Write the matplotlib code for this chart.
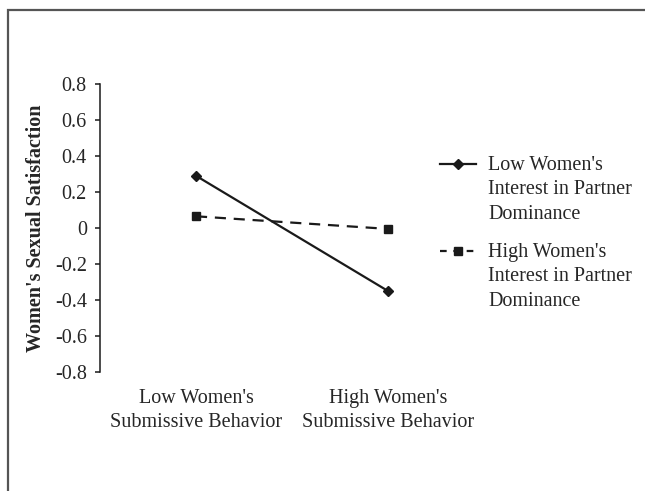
import matplotlib
matplotlib.use("Agg")
import matplotlib.pyplot as plt
from matplotlib.lines import Line2D
from matplotlib.patches import Rectangle

# data
categories = ["Low Women's\nSubmissive Behavior", "High Women's\nSubmissive Behavior"]
low_interest = [0.29, -0.35]
high_interest = [0.065, -0.005]
series_labels = ["Low Women's\nInterest in Partner\nDominance",
                 "High Women's\nInterest in Partner\nDominance"]
yticks = [-0.8, -0.6, -0.4, -0.2, 0, 0.2, 0.4, 0.6, 0.8]
ytick_labels = ["-0.8", "-0.6", "-0.4", "-0.2", "0", "0.2", "0.4", "0.6", "0.8"]

plt.rcParams['font.family'] = ['Liberation Serif', 'DejaVu Serif']
fs = 14.5
txt_col = '#262626'
line_col = '#1a1a1a'

W, H = 645, 491
fig = plt.figure(figsize=(W / 100, H / 100), dpi=100)
# axes box in pixels: left 100, right 484, top 84, bottom 372
ax = fig.add_axes([100 / W, 1 - 372 / H, 384 / W, 288 / H])

x = range(len(categories))
ax.plot(x, low_interest, color=line_col, lw=1.6, marker='D', ms=5.5,
        label=series_labels[0])
ax.plot(x, high_interest, color=line_col, lw=1.6, ls=(0, (5, 3.5)), marker='s',
        ms=6, label=series_labels[1])

ax.set_xlim(-0.5, 1.5)
ax.set_ylim(-0.8, 0.8)
ax.set_yticks(yticks)
ax.set_yticklabels(ytick_labels)
ax.set_xticks(list(x))
ax.set_xticklabels(categories, linespacing=1.4)

for s in ['top', 'right', 'bottom']:
    ax.spines[s].set_visible(False)
ax.spines['left'].set_color(line_col)
ax.spines['left'].set_linewidth(1.1)
ax.tick_params(axis='y', direction='out', length=3.5, width=1.1, pad=6,
               labelsize=fs, labelcolor=txt_col, color=line_col)
ax.tick_params(axis='x', length=0, pad=12, labelsize=fs, labelcolor=txt_col)

ax.set_ylabel("Women's Sexual Satisfaction", fontsize=fs, fontweight='bold',
              color=txt_col)
ax.yaxis.set_label_coords(-0.14, 0.5)

# legend drawn by hand so the handle sits on the first line of each label
leg_tops = [156, 243]
markers = ['D', 's']
styles = ['-', (0, (3, 3))]
for top, lab, mk, st in zip(leg_tops, series_labels, markers, styles):
    yh = 1 - (top + 8) / H
    fig.add_artist(Line2D([440 / W, 476 / W], [yh, yh], transform=fig.transFigure,
                          color=line_col, lw=1.6, ls=st))
    fig.add_artist(Line2D([458 / W], [yh], transform=fig.transFigure,
                          color=line_col, marker=mk, ms=5.5 if mk == 'D' else 6,
                          ls='none'))
    fig.text(488 / W, 1 - top / H, lab, fontsize=fs, color=txt_col,
             va='top', ha='left', linespacing=1.38)

# outer frame of the original figure
fig.add_artist(Rectangle((8 / W, -0.1), 1.2, 1.1 - 10 / H,
                         transform=fig.transFigure, fill=False,
                         edgecolor='#555555', lw=1.6, clip_on=False))

fig.savefig("out.png", dpi=100)
